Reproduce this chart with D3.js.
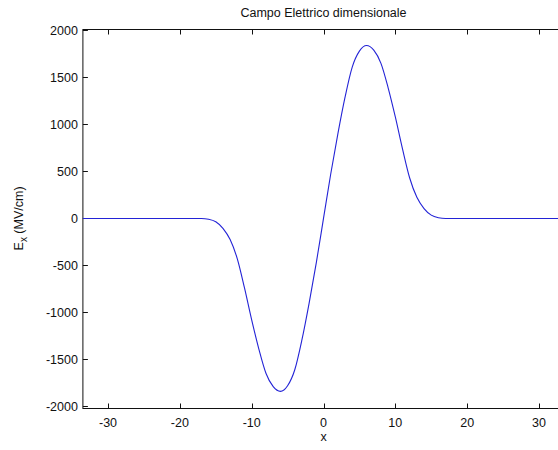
<!DOCTYPE html>
<html>
<head>
<meta charset="utf-8">
<script src="https://cdn.jsdelivr.net/npm/d3@7"></script>
<style>
  html, body { margin: 0; padding: 0; background: #fff; }
  svg { display: block; }
  text { font-family: "Liberation Sans", Arial, Helvetica, sans-serif; fill: #111; }
</style>
</head>
<body>
<svg id="chart" width="558" height="450"></svg>
<script>
// Electric field profile E_x(x) in MV/cm
const xs = [-33.5, -20, -17, -16, -15, -14, -13, -12, -11, -10, -9, -8, -7, -6, -5, -4, -3, -2, -1,
            0, 1, 2, 3, 4, 5, 6, 7, 8, 9, 10, 11, 12, 13, 14, 15, 16, 17, 20, 33.5];
const ex = [0, 0, 0, -8, -35, -105, -225, -430, -740, -1080, -1390, -1650, -1790, -1840, -1780, -1610, -1290, -900, -470,
            0, 470, 900, 1290, 1610, 1780, 1840, 1790, 1650, 1390, 1080, 740, 430, 225, 105, 35, 8, 0, 0, 0];
const xTicks = [-30, -20, -10, 0, 10, 20, 30];
const yTicks = [-2000, -1500, -1000, -500, 0, 500, 1000, 1500, 2000];
const titleText = "Campo Elettrico dimensionale";
const xLabel = "x";

const svg = d3.select("#chart");
const m = { left: 82.9, right: 564.1, top: 29.5, bottom: 408.5 };
const fs = 12.5;

const x = d3.scaleLinear().domain([-33.5, 33.5]).range([m.left, m.right]);
const y = d3.scaleLinear().domain([-2022, 2010]).range([m.bottom, m.top]);

const tickLen = 5;
const axisColor = "#111";

// axes box
svg.append("rect")
  .attr("x", m.left).attr("y", m.top)
  .attr("width", m.right - m.left).attr("height", m.bottom - m.top)
  .attr("fill", "none").attr("stroke", axisColor).attr("stroke-width", 1);

// x ticks (bottom and top, pointing inward)
const gx = svg.append("g");
xTicks.forEach(t => {
  const px = Math.round(x(t)) + 0.5;
  gx.append("line").attr("x1", px).attr("x2", px).attr("y1", m.bottom).attr("y2", m.bottom - tickLen)
    .attr("stroke", axisColor);
  gx.append("line").attr("x1", px).attr("x2", px).attr("y1", m.top).attr("y2", m.top + tickLen)
    .attr("stroke", axisColor);
  gx.append("text").attr("x", x(t)).attr("y", m.bottom + 18)
    .attr("text-anchor", "middle").attr("font-size", fs).text(t);
});

// y ticks (left and right, pointing inward)
const gy = svg.append("g");
yTicks.forEach(t => {
  const py = Math.round(y(t)) + 0.5;
  gy.append("line").attr("x1", m.left).attr("x2", m.left + tickLen).attr("y1", py).attr("y2", py)
    .attr("stroke", axisColor);
  gy.append("line").attr("x1", m.right).attr("x2", m.right - tickLen).attr("y1", py).attr("y2", py)
    .attr("stroke", axisColor);
  gy.append("text").attr("x", m.left - 5).attr("y", y(t) + 4.5)
    .attr("text-anchor", "end").attr("font-size", fs).text(t);
});

// field curve
const line = d3.line()
  .x((d, i) => x(xs[i]))
  .y(d => y(d))
  .curve(d3.curveMonotoneX);

svg.append("path")
  .datum(ex)
  .attr("d", line)
  .attr("fill", "none")
  .attr("stroke", "#2323d6")
  .attr("stroke-width", 1.1);

// title
svg.append("text").attr("x", 323.5).attr("y", 17)
  .attr("text-anchor", "middle").attr("font-size", fs).text(titleText);

// x label
svg.append("text").attr("x", 323.5).attr("y", 441)
  .attr("text-anchor", "middle").attr("font-size", fs).text(xLabel);

// y label with subscript
const yl = svg.append("text")
  .attr("transform", "translate(23," + y(0) + ") rotate(-90)")
  .attr("text-anchor", "middle").attr("font-size", fs);
yl.append("tspan").text("E");
yl.append("tspan").attr("dy", 4).attr("font-size", 10).text("x");
yl.append("tspan").attr("dy", -4).text(" (MV/cm)");
</script>
</body>
</html>
